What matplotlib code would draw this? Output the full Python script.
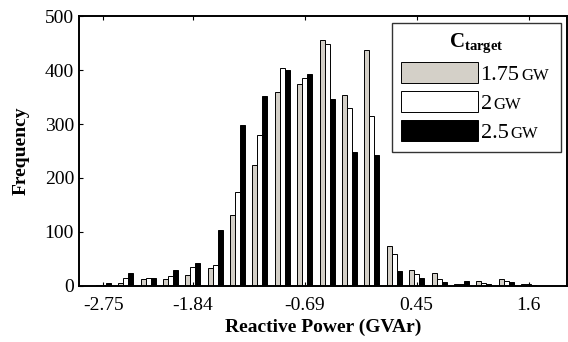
import matplotlib
matplotlib.use("Agg")
import matplotlib.pyplot as plt
import numpy as np

plt.rcParams['font.family'] = ['Liberation Serif', 'DejaVu Serif']
plt.rcParams['mathtext.fontset'] = 'custom'
plt.rcParams['mathtext.rm'] = 'Liberation Serif'
plt.rcParams['mathtext.bf'] = 'Liberation Serif:bold'

# frequency per reactive power bin, one list per C_target
c_175 = [1, 5, 13, 13, 21, 34, 131, 224, 359, 375, 455, 353, 438, 74, 30, 23, 4, 9, 12, 4]
c_2 = [1, 14, 15, 18, 35, 38, 174, 280, 404, 385, 449, 330, 314, 59, 22, 13, 4, 5, 9, 4]
c_25 = [6, 23, 15, 30, 43, 104, 298, 352, 401, 393, 347, 248, 243, 28, 15, 7, 9, 4, 7, 2]
series_labels = ['1.75', '2', '2.5']
unit = 'GW'
tick_bins = [0, 4, 9, 14, 19]
tick_labels = ['-2.75', '-1.84', '-0.69', '0.45', '1.6']

fig = plt.figure(figsize=(5.68, 3.42), dpi=100)
ax = fig.add_axes([0.139, 0.164, 0.859, 0.789])

x = np.arange(len(c_175))
w = 0.223
colors = ['#d4d0c8', 'white', 'black']
for k, (vals, col, lab) in enumerate(zip([c_175, c_2, c_25], colors, series_labels)):
    ax.bar(x + (k - 1) * w, vals, width=w, color=col, edgecolor='black',
           linewidth=0.7, label=lab)

ax.set_xlim(-1.085, 20.71)
ax.set_ylim(0, 500)
ax.set_yticks(range(0, 501, 100))
ax.set_xticks(tick_bins)
ax.set_xticklabels(tick_labels)
ax.tick_params(axis='both', labelsize=14, direction='in', length=3, top=True)
ax.tick_params(axis='x', pad=8)
for s in ax.spines.values():
    s.set_linewidth(1.4)

ax.set_xlabel('Reactive Power (GVAr)', fontsize=14, fontweight='bold', labelpad=3)
ax.set_ylabel('Frequency', fontsize=14, fontweight='bold', labelpad=11)

# legend box spans a fixed width (expand), unit drawn smaller next to each number
leg = ax.legend(title=r'$\mathbf{C}_{\mathbf{target}}$', loc='upper left',
                bbox_to_anchor=(0.6414, 0.5, 0.3463, 0.475), mode='expand',
                fontsize=16, title_fontsize=15,
                handlelength=3.47, handleheight=1.12, handletextpad=0.12,
                labelspacing=0.26, borderpad=0.4, frameon=True, fancybox=False,
                edgecolor='black', borderaxespad=0)
leg.get_frame().set_linewidth(1.0)

fig.canvas.draw()
for t in leg.get_texts():
    ax.annotate(unit, xy=(1, 0), xycoords=t, xytext=(1.5, 1.0),
                textcoords='offset points', fontsize=12, ha='left', va='bottom',
                zorder=6)

fig.savefig('out.png', dpi=100)
